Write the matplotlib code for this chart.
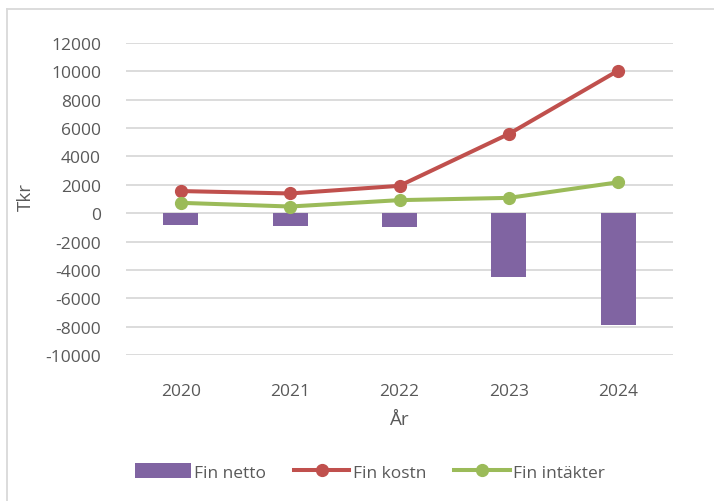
import matplotlib
matplotlib.use("Agg")
import matplotlib.pyplot as plt
from matplotlib.lines import Line2D
import numpy as np

years = ["2020", "2021", "2022", "2023", "2024"]
fin_netto = [-830, -910, -1000, -4520, -7880]
fin_kostn = [1560, 1390, 1930, 5590, 10060]
fin_intakter = [730, 470, 920, 1080, 2180]

PURPLE = "#8064A2"
RED = "#C0504D"
GREEN = "#9BBB59"
GRID = "#D9D9D9"
TXT = "#595959"

plt.rcParams["font.family"] = ["Open Sans", "DejaVu Sans"]
plt.rcParams["axes.unicode_minus"] = False

W, H = 714, 502
fig = plt.figure(figsize=(W / 100, H / 100), dpi=100)
ax = fig.add_axes([126 / W, 1 - 356 / H, (673 - 126) / W, (356 - 44) / H])

x = np.arange(len(years))
b = ax.bar(x, fin_netto, width=0.32, color=PURPLE, label="Fin netto", zorder=2)
l1, = ax.plot(x, fin_kostn, color=RED, lw=2.9, marker="o", ms=8.5, label="Fin kostn", zorder=3)
l2, = ax.plot(x, fin_intakter, color=GREEN, lw=2.9, marker="o", ms=8.5, label="Fin intäkter", zorder=3)

ax.set_xlim(-0.5, len(years) - 0.5)
ax.set_ylim(-10000, 12000)
ax.set_yticks(np.arange(-10000, 12001, 2000))
ax.set_xticks(x)
ax.set_xticklabels(years)
ax.yaxis.grid(True, color=GRID, lw=1.3, zorder=0)
ax.set_axisbelow(True)
for s in ax.spines.values():
    s.set_visible(False)
ax.tick_params(axis="both", length=0, colors=TXT, labelsize=12.5)
ax.tick_params(axis="x", pad=20)
ax.tick_params(axis="y", pad=18)

fig.text(26 / W, 1 - 197 / H, "Tkr", rotation=90, ha="center", va="center",
         fontsize=13.5, color=TXT)
ax.set_xlabel("År", fontsize=13.5, color=TXT, labelpad=8)

leg = ax.legend([b, l1, l2], ["Fin netto", "Fin kostn", "Fin intäkter"],
                loc="center", bbox_to_anchor=(370 / W, 1 - 473 / H),
                bbox_transform=fig.transFigure, ncol=3, frameon=False,
                fontsize=12.5, handlelength=3.2, handleheight=0.9,
                handletextpad=0.2, columnspacing=1.6)
for t in leg.get_texts():
    t.set_color(TXT)

# chart-area border (top and left visible)
fig.add_artist(Line2D([7 / W, 1], [1 - 10 / H, 1 - 10 / H], transform=fig.transFigure,
                      color=GRID, lw=1.3))
fig.add_artist(Line2D([7 / W, 7 / W], [0, 1 - 10 / H], transform=fig.transFigure,
                      color=GRID, lw=1.3))

fig.savefig("out.png", dpi=100)
